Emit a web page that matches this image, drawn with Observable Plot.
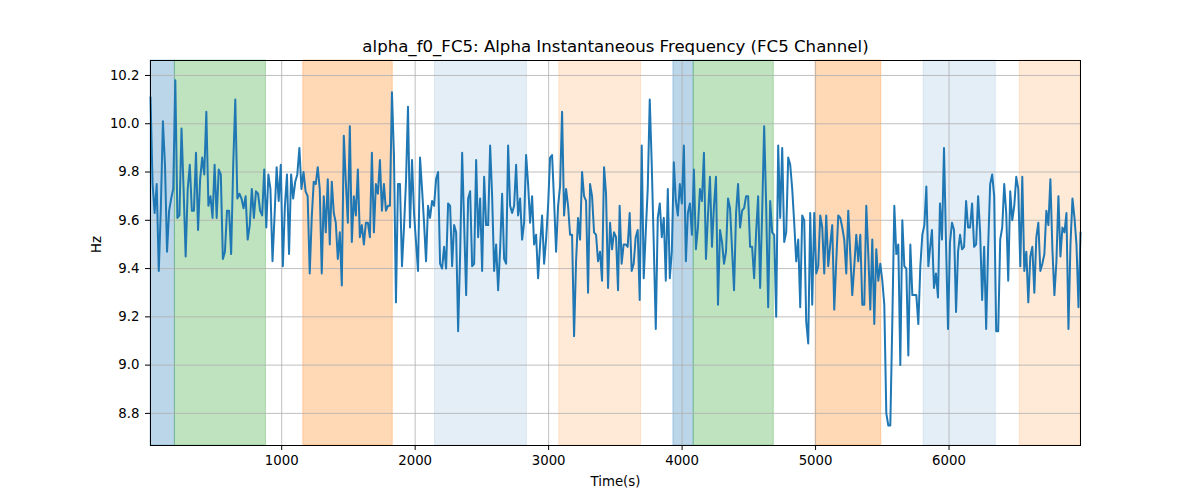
<!DOCTYPE html>
<html>
<head>
<meta charset="utf-8">
<script src="https://cdn.jsdelivr.net/npm/d3@7"></script>
<script src="https://cdn.jsdelivr.net/npm/@observablehq/plot@0.6"></script>
<style>
  body { margin: 0; background: #fff; }
  #chart svg { display: block; }
</style>
</head>
<body>
<div id="chart"></div>
<script>
// valores, por tramos
const hz1 = [10.11, 9.75, 9.63, 9.75, 9.39, 9.65, 10.01, 9.83, 9.47, 9.64, 9.69, 9.73, 10.18, 9.61, 9.62, 9.98, 9.73, 9.45, 9.73, 9.83, 9.64, 9.64, 9.88, 9.56, 9.77, 9.86, 9.79, 10.05, 9.66, 9.70, 9.61, 9.83, 9.61, 9.81, 9.79, 9.44, 9.47, 9.64, 9.64, 9.46, 9.83, 10.10, 9.69, 9.71, 9.69, 9.65, 9.70, 9.52, 9.58, 9.73, 9.61, 9.72, 9.71, 9.64, 9.62, 9.81, 9.57, 9.79, 9.73, 9.43, 9.62, 9.82, 9.68, 9.83, 9.41, 9.66, 9.79, 9.46, 9.79, 9.69, 9.76, 9.79, 9.90, 9.73, 9.80, 9.72, 9.70, 9.38]
const hz2 = [9.61, 9.76, 9.75, 9.82, 9.73, 9.38, 9.70, 9.55, 9.77, 9.50, 9.76, 9.63, 9.59, 9.44, 9.55, 9.33, 9.95, 9.76, 9.59, 9.99, 9.51, 9.70, 9.62, 9.81, 9.53, 9.58, 9.50, 9.59, 9.59, 9.53, 9.88, 9.55, 9.75, 9.71, 9.85, 9.64, 9.75, 9.64, 9.66, 9.66, 10.13, 9.87, 9.26, 9.75, 9.75, 9.41, 9.57, 9.76, 10.07, 9.57, 9.85, 9.63, 9.51, 9.39, 9.86, 9.73, 9.59, 9.43, 9.66, 9.61, 9.68, 9.66, 9.77, 9.80, 9.42, 9.40, 9.49, 9.40, 9.67, 9.66, 9.41, 9.58, 9.55, 9.14, 9.46, 9.88]
const hz3 = [9.29, 9.69, 9.72, 9.41, 9.42, 9.85, 9.53, 9.69, 9.39, 9.78, 9.58, 9.58, 9.91, 9.70, 9.39, 9.50, 9.31, 9.48, 9.71, 9.44, 9.42, 9.91, 9.66, 9.63, 9.66, 9.83, 9.62, 9.69, 9.52, 9.59, 9.87, 9.75, 9.59, 9.70, 9.50, 9.54, 9.36, 9.50, 9.62, 9.42, 9.52, 9.66, 9.86, 9.87, 9.68, 9.47, 9.66, 9.74, 10.05, 9.62, 9.73, 9.66, 9.54, 9.54, 9.12, 9.43, 9.61, 9.52, 9.80, 9.70, 9.68, 9.30, 9.75, 9.70, 9.55, 9.54, 9.43, 9.47, 9.35, 9.82, 9.71, 9.32, 9.59, 9.48, 9.55, 9.53, 9.31]
const hz4 = [9.66, 9.42, 9.50, 9.50, 9.49, 9.63, 9.39, 9.42, 9.53, 9.56, 9.27, 9.91, 9.36, 9.55, 9.73, 10.10, 9.83, 9.50, 9.15, 9.61, 9.67, 9.53, 9.61, 9.35, 9.73, 9.36, 9.47, 9.84, 9.68, 9.62, 9.75, 9.67, 9.91, 9.43, 9.63, 9.67, 9.54, 9.81, 9.48, 9.57, 9.73, 9.68, 9.88, 9.44, 9.62, 9.78, 9.49, 9.66, 9.78, 9.25, 9.56, 9.51, 9.42, 9.47, 9.69, 9.65, 9.48, 9.31, 9.63, 9.75, 9.57, 9.64, 9.65, 9.70, 9.70, 9.49, 9.49, 9.36, 9.55, 9.70, 9.32, 9.63, 9.99, 9.66, 9.24, 9.68, 9.55, 9.54]
const hz5 = [9.20, 9.91, 9.61, 9.90, 9.51, 9.55, 9.86, 9.83, 9.73, 9.59, 9.43, 9.52, 9.24, 9.62, 9.60, 9.18, 9.09, 9.63, 9.25, 9.63, 9.38, 9.41, 9.62, 9.57, 9.38, 9.62, 9.41, 9.50, 9.58, 9.23, 9.43, 9.62, 9.61, 9.57, 9.52, 9.38, 9.64, 9.46, 9.29, 9.41, 9.54, 9.43, 9.54, 9.25, 9.25, 9.66, 9.46, 9.23, 9.52, 9.17, 9.48, 9.35, 9.42, 9.35, 9.25, 8.80, 8.75, 8.75, 9.18, 9.66, 9.46, 9.50, 9.00, 9.60, 9.41, 9.40, 9.04, 9.50, 9.29, 9.29, 9.29, 9.17, 9.41, 9.54, 9.58, 9.74, 9.41]
const hz6 = [9.48, 9.56, 9.32, 9.38, 9.28, 9.67, 9.52, 9.90, 9.51, 9.15, 9.51, 9.59, 9.56, 9.22, 9.47, 9.54, 9.48, 9.49, 9.68, 9.57, 9.57, 9.67, 9.49, 9.50, 9.70, 9.55, 9.27, 9.49, 9.15, 9.49, 9.75, 9.79, 9.70, 9.14, 9.14, 9.52, 9.57, 9.75, 9.63, 9.35, 9.72, 9.60, 9.66, 9.78, 9.73, 9.41, 9.78, 9.39, 9.47, 9.26, 9.45, 9.49, 9.30, 9.53, 9.59, 9.39, 9.42, 9.46, 9.64, 9.58, 9.77, 9.48, 9.29, 9.43, 9.70, 9.45, 9.57, 9.55, 9.63, 9.15, 9.50, 9.69, 9.61, 9.50, 9.24, 9.55]
// tiempo (s) donde empieza y termina cada tramo
const chunkStart = [17, 1225, 2382, 3532, 4705, 5857]
const chunkEnd = [1210, 2352, 3520, 4690, 5845, 6985]

// bandas de fondo
const spanStart = [17, 200, 1162, 2149, 3080, 3935, 4087, 5000, 5810, 6530]
const spanEnd = [200, 882, 1832, 2837, 3692, 4087, 4687, 5492, 6350, 6985]
const spanKind = ['C0', 'C2', 'C1', 'C0l', 'C1l', 'C0', 'C2', 'C1', 'C0l', 'C1l']

const xTicks = [1000, 2000, 3000, 4000, 5000, 6000]
const yTicks = [8.8, 9.0, 9.2, 9.4, 9.6, 9.8, 10.0, 10.2]

const title = 'alpha_f0_FC5: Alpha Instantaneous Frequency (FC5 Channel)'

const kindFill = {C0: '#1f77b4', C2: '#2ca02c', C1: '#ff7f0e', C0l: '#1f77b4', C1l: '#ff7f0e'}
const kindAlpha = {C0: 0.3, C2: 0.3, C1: 0.3, C0l: 0.12, C1l: 0.16}

let series = []
;[hz1, hz2, hz3, hz4, hz5, hz6].forEach((vals, k) => {
  const a = chunkStart[k], b = chunkEnd[k]
  vals.forEach((v, i) => series.push({t: a + i * (b - a) / (vals.length - 1), hz: v}))
})

const spans = spanStart.map((s, i) => ({a: s, b: spanEnd[i], kind: spanKind[i]}))

let chart = Plot.plot({
  width: 1200,
  height: 500,
  marginTop: 60,
  marginBottom: 55,
  marginLeft: 150,
  marginRight: 120,
  style: {fontFamily: 'DejaVu Sans', fontSize: '13.3px', background: '#fff'},
  x: {domain: [17, 6985]},
  y: {domain: [8.667, 10.262]},
  color: {type: 'identity'},
  marks: [
    Plot.rect(spans, {
      x1: 'a', x2: 'b',
      fill: d => kindFill[d.kind],
      fillOpacity: d => kindAlpha[d.kind],
      stroke: d => kindFill[d.kind],
      strokeOpacity: d => kindAlpha[d.kind],
      strokeWidth: 1
    }),
    Plot.gridX(xTicks, {stroke: '#b0b0b0', strokeOpacity: 1, strokeWidth: 0.8}),
    Plot.gridY(yTicks, {stroke: '#b0b0b0', strokeOpacity: 1, strokeWidth: 0.8}),
    Plot.line(series, {x: 't', y: 'hz', stroke: '#1f77b4', strokeWidth: 2}),
    Plot.frame({stroke: 'black', strokeWidth: 1}),
    Plot.axisX({ticks: xTicks, tickSize: 5, tickPadding: 5, tickFormat: d => String(d), label: null, fontSize: 13.3}),
    Plot.axisY({ticks: yTicks, tickSize: 5, tickPadding: 6, tickFormat: d => d.toFixed(1), label: null, fontSize: 13.3}),
    Plot.text([title], {frameAnchor: 'top', lineAnchor: 'middle', dy: -14, fontSize: 16.6, fill: 'black'}),
    Plot.text(['Time(s)'], {frameAnchor: 'bottom', lineAnchor: 'middle', dy: 36, fontSize: 13.3, fill: 'black'}),
    Plot.text(['Hz'], {frameAnchor: 'left', lineAnchor: 'middle', dx: -54, rotate: -90, fontSize: 13.3, fill: 'black'})
  ]
})

d3.select('#chart').append(() => chart)
</script>
</body>
</html>
